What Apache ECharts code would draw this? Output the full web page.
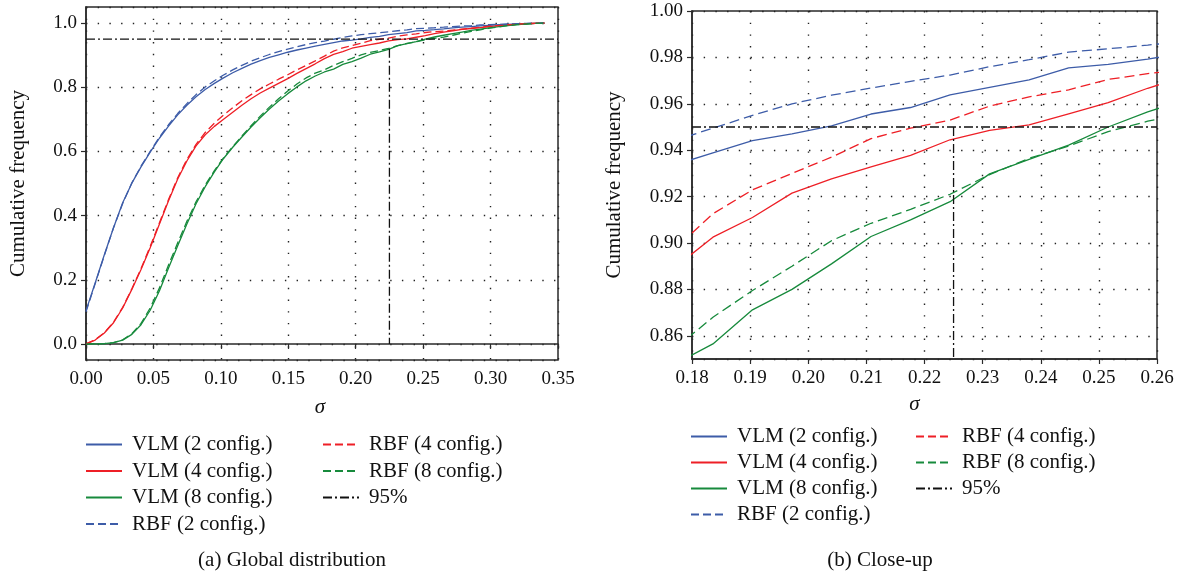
<!DOCTYPE html>
<html>
<head>
<meta charset="utf-8">
<script src="https://cdn.jsdelivr.net/npm/echarts@6/dist/echarts.min.js"></script>
<style>
html,body{margin:0;padding:0;background:#fff;}
#chart{width:1183px;height:577px;}
</style>
</head>
<body>
<div id="chart"></div>
<script>
// sigma sample points (x values)
const sigma = [0, 0.0068, 0.0136, 0.0204, 0.0272, 0.034, 0.0408, 0.0476, 0.0544, 0.0612,
  0.068, 0.0748, 0.0816, 0.0884, 0.0952, 0.102, 0.1088, 0.1156, 0.1224, 0.1292,
  0.136, 0.1428, 0.1496, 0.1564, 0.1632, 0.17, 0.1768, 0.1836, 0.1904, 0.1972,
  0.204, 0.2108, 0.2176, 0.2244, 0.2312, 0.238, 0.2448, 0.2516, 0.2584, 0.2652,
  0.272, 0.2788, 0.2856, 0.2924, 0.2992, 0.306, 0.3128, 0.3196, 0.3264, 0.3332,
  0.34];

const vlm2 = [0.104, 0.190, 0.278, 0.362, 0.440, 0.501, 0.552, 0.598, 0.641, 0.679,
  0.714, 0.744, 0.770, 0.793, 0.812, 0.829, 0.845, 0.859, 0.872, 0.883,
  0.893, 0.901, 0.909, 0.916, 0.922, 0.928, 0.9335, 0.9388, 0.9441, 0.9470,
  0.9505, 0.9556, 0.9584, 0.9638, 0.9671, 0.9703, 0.9755, 0.9770, 0.9793, 0.9820,
  0.985, 0.987, 0.989, 0.991, 0.993, 0.995, 0.996, 0.997, 0.998, 0.999,
  1.0];

const vlm4 = [0.000, 0.012, 0.034, 0.066, 0.112, 0.170, 0.232, 0.300, 0.373, 0.446,
  0.514, 0.570, 0.617, 0.652, 0.678, 0.700, 0.722, 0.744, 0.764, 0.782,
  0.797, 0.812, 0.827, 0.843, 0.858, 0.873, 0.889, 0.9025, 0.9110, 0.9215,
  0.9276, 0.9328, 0.9378, 0.9445, 0.9485, 0.9509, 0.9557, 0.9605, 0.9667, 0.9720,
  0.976, 0.980, 0.983, 0.986, 0.989, 0.992, 0.994, 0.996, 0.998, 0.999,
  1.0];

const vlm8 = [0.000, 0.000, 0.001, 0.004, 0.012, 0.030, 0.060, 0.105, 0.165, 0.237,
  0.306, 0.374, 0.437, 0.490, 0.536, 0.578, 0.613, 0.645, 0.676, 0.705,
  0.732, 0.757, 0.780, 0.801, 0.820, 0.835, 0.8475, 0.8565, 0.8712, 0.8800,
  0.8910, 0.9028, 0.9100, 0.9178, 0.9298, 0.9360, 0.9422, 0.9500, 0.9565, 0.9620,
  0.967, 0.972, 0.977, 0.981, 0.985, 0.989, 0.992, 0.995, 0.997, 0.999,
  1.0];

const rbf2 = [0.100, 0.188, 0.276, 0.362, 0.438, 0.502, 0.554, 0.600, 0.644, 0.683,
  0.718, 0.749, 0.777, 0.801, 0.820, 0.838, 0.854, 0.868, 0.881, 0.892,
  0.902, 0.911, 0.919, 0.926, 0.933, 0.939, 0.944, 0.9495, 0.9550, 0.9600,
  0.9637, 0.9668, 0.9697, 0.9724, 0.9760, 0.9790, 0.9823, 0.9837, 0.9853, 0.9870,
  0.989, 0.991, 0.992, 0.994, 0.995, 0.996, 0.997, 0.998, 0.999, 0.9995,
  1.0];

const rbf4 = [0.000, 0.013, 0.035, 0.068, 0.114, 0.172, 0.235, 0.304, 0.377, 0.450,
  0.518, 0.575, 0.622, 0.659, 0.688, 0.713, 0.736, 0.758, 0.777, 0.795,
  0.810, 0.825, 0.839, 0.854, 0.868, 0.882, 0.897, 0.9126, 0.9229, 0.9300,
  0.9370, 0.9450, 0.9495, 0.9530, 0.9590, 0.9630, 0.9660, 0.9705, 0.9730, 0.9750,
  0.978, 0.981, 0.984, 0.987, 0.990, 0.992, 0.994, 0.996, 0.998, 0.999,
  1.0];

const rbf8 = [0.000, 0.000, 0.001, 0.004, 0.013, 0.032, 0.064, 0.112, 0.174, 0.246,
  0.315, 0.382, 0.443, 0.495, 0.540, 0.580, 0.615, 0.648, 0.680, 0.710,
  0.738, 0.764, 0.788, 0.810, 0.829, 0.844, 0.854, 0.8680, 0.8795, 0.8900,
  0.9010, 0.9085, 0.9145, 0.9210, 0.9295, 0.9365, 0.9418, 0.9480, 0.9525, 0.9560,
  0.962, 0.968, 0.974, 0.979, 0.984, 0.988, 0.992, 0.995, 0.997, 0.999,
  1.0];

// 95% reference marker
const threshold95 = 0.95;
const sigma95 = 0.225;
const curveAt95Left = 0.92;  // where the vertical marker stops in panel (a)

const seriesNames = ['VLM (2 config.)', 'VLM (4 config.)', 'VLM (8 config.)',
  'RBF (2 config.)', 'RBF (4 config.)', 'RBF (8 config.)'];
const refName = '95%';
const captions = ['(a) Global distribution', '(b) Close-up'];
const yTitle = 'Cumulative frequency';
const xTitle = 'σ';

const FONT = '"Liberation Serif", "Times New Roman", serif';
const BLUE = '#3d5ca8', RED = '#ee1f26', GREEN = '#178a3c';
const colors = [BLUE, RED, GREEN, BLUE, RED, GREEN];
const curves = [vlm2, vlm4, vlm8, rbf2, rbf4, rbf8];

function pairs(ys) { return sigma.map((s, i) => [s, ys[i]]); }

const chart = echarts.init(document.getElementById('chart'), null, {renderer: 'canvas'});

function axisCommon() {
  return {
    axisLine: {show: true, lineStyle: {color: '#2a2a2a', width: 1.5}},
    axisTick: {show: true, inside: false, length: 5, lineStyle: {color: '#2a2a2a', width: 1.2}},
    splitLine: {show: true, lineStyle: {color: '#222', width: 1.4, type: [1.4, 10.3]}},
    axisLabel: {color: '#111', fontFamily: FONT, fontSize: 19, margin: 9},
    nameTextStyle: {color: '#111', fontFamily: FONT, fontSize: 21}
  };
}

const xAxes = [
  Object.assign(axisCommon(), {
    gridIndex: 0, type: 'value', min: 0, max: 0.35, interval: 0.05,
    name: xTitle, nameLocation: 'middle', nameGap: 37,
    nameTextStyle: {color: '#111', fontFamily: FONT, fontSize: 21, fontStyle: 'italic', padding: [0, 4, 0, 0]},
    axisLabel: {color: '#111', fontFamily: FONT, fontSize: 19, margin: 10, formatter: v => v.toFixed(2)}
  }),
  Object.assign(axisCommon(), {
    gridIndex: 1, type: 'value', min: 0.18, max: 0.26, interval: 0.01,
    name: xTitle, nameLocation: 'middle', nameGap: 35,
    nameTextStyle: {color: '#111', fontFamily: FONT, fontSize: 21, fontStyle: 'italic', padding: [0, 20, 0, 0]},
    axisLabel: {color: '#111', fontFamily: FONT, fontSize: 19, margin: 10, formatter: v => v.toFixed(2)}
  })
];
const yAxes = [
  Object.assign(axisCommon(), {
    gridIndex: 0, type: 'value', min: -0.05, max: 1.05, splitNumber: 5,
    name: yTitle, nameLocation: 'middle', nameGap: 57, nameRotate: 90,
    axisLabel: {color: '#111', fontFamily: FONT, fontSize: 19, margin: 9,
      showMinLabel: false, showMaxLabel: false, formatter: v => v.toFixed(1)}
  }),
  Object.assign(axisCommon(), {
    gridIndex: 1, type: 'value', min: 0.85, max: 1.0, splitNumber: 7,
    name: yTitle, nameLocation: 'middle', nameGap: 67, nameRotate: 90,
    axisLabel: {color: '#111', fontFamily: FONT, fontSize: 19, margin: 9,
      showMinLabel: false, formatter: v => v.toFixed(2)}
  })
];

const series = [];
[0, 1].forEach(g => {
  curves.forEach((c, k) => {
    series.push({
      name: seriesNames[k], type: 'line', xAxisIndex: g, yAxisIndex: g,
      data: pairs(c), symbol: 'none', showSymbol: false, clip: true,
      lineStyle: {color: colors[k], width: 1.3, type: k >= 3 ? (g === 0 ? [8, 4] : [10, 5]) : 'solid'},
      itemStyle: {color: colors[k]},
      z: 3, animation: false
    });
  });
  const xMax = g === 0 ? 0.35 : 0.26;
  const xMin = g === 0 ? 0 : 0.18;
  const yBottom = g === 0 ? 0 : 0.85;
  const yTopV = g === 0 ? curveAt95Left : threshold95;
  series.push({
    name: refName, type: 'line', xAxisIndex: g, yAxisIndex: g,
    data: [[xMin, threshold95], [xMax, threshold95], '-', [sigma95, yTopV], [sigma95, yBottom]],
    connectNulls: false, symbol: 'none', showSymbol: false,
    lineStyle: {color: '#111', width: 1.3, type: [9, 3, 2, 3]},
    itemStyle: {color: '#111'}, z: 4, animation: false
  });
});

function legendBox(left, top, names, gap) {
  return {
    left: left, top: top, orient: 'vertical', padding: 0,
    itemWidth: 36, itemHeight: 12, itemGap: gap,
    data: names,
    itemStyle: {color: 'rgba(0,0,0,0)', borderWidth: 0, opacity: 0},
    textStyle: {color: '#111', fontFamily: FONT, fontSize: 21, lineHeight: 20, padding: [0, 0, 0, 5]}
  };
}

chart.setOption({
  animation: false,
  backgroundColor: '#fff',
  grid: [
    {left: 86, top: 7, width: 472, height: 353, show: true, borderColor: '#2a2a2a', borderWidth: 1.5},
    {left: 692, top: 11, width: 465, height: 348, show: true, borderColor: '#2a2a2a', borderWidth: 1.5}
  ],
  xAxis: xAxes,
  yAxis: yAxes,
  legend: [
    legendBox(85, 434, seriesNames.slice(0, 4), 5.5),
    legendBox(322, 434, [seriesNames[4], seriesNames[5], refName], 5.5),
    legendBox(690, 426, seriesNames.slice(0, 4), 5),
    legendBox(915, 426, [seriesNames[4], seriesNames[5], refName], 5)
  ],
  graphic: [
    {type: 'text', x: 292, y: 560, style: {text: captions[0], fill: '#111', font: '21px ' + FONT, textAlign: 'center', textVerticalAlign: 'middle'}},
    {type: 'text', x: 880, y: 560, style: {text: captions[1], fill: '#111', font: '21px ' + FONT, textAlign: 'center', textVerticalAlign: 'middle'}}
  ],
  series: series
});
</script>
</body>
</html>
